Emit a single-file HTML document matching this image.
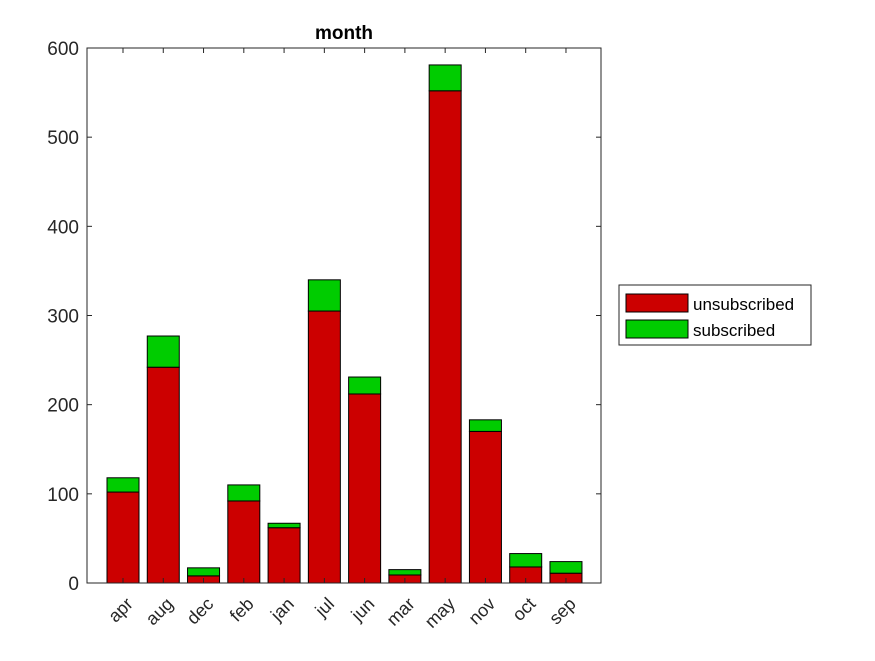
<!DOCTYPE html>
<html><head><meta charset="utf-8"><style>
body{margin:0;background:#fff;}
svg text{font-family:"Liberation Sans",Arial,sans-serif;fill:#262626;}
</style></head><body>
<svg id="chart" width="875" height="656" xmlns="http://www.w3.org/2000/svg">
<rect x="0" y="0" width="875" height="656" fill="#fff"/>
<text x="344" y="39" font-size="19" font-weight="bold" text-anchor="middle" style="fill:#000">month</text>
<g id="bars"></g>
<rect x="87" y="48" width="514" height="535" fill="none" stroke="#262626" stroke-width="1"/>
<g id="axes"></g>
<g>
<rect x="619" y="285" width="192" height="60" fill="#fff" stroke="#262626" stroke-width="1"/>
<rect x="626" y="294" width="62" height="18" fill="#cc0000" stroke="#000" stroke-width="1"/>
<text x="693" y="310" font-size="17" style="fill:#000">unsubscribed</text>
<rect x="626" y="320" width="62" height="18" fill="#00cc00" stroke="#000" stroke-width="1"/>
<text x="693" y="336" font-size="17" style="fill:#000">subscribed</text>
</g>
</svg>
<script>
const categories = ["apr","aug","dec","feb","jan","jul","jun","mar","may","nov","oct","sep"];
const unsubscribed = [102,242,8,92,62,305,212,9,552,170,18,11];
const subscribed = [16,35,9,18,5,35,19,6,29,13,15,13];
const yTicks = [0,100,200,300,400,500,600];

const NS = "http://www.w3.org/2000/svg";
const y = v => 583 - v * (535/600);
const x = i => 123 + i * 40.27;
const bw = 32;
function mk(tag, attrs, parent){ const e=document.createElementNS(NS,tag); for(const k in attrs) e.setAttribute(k,attrs[k]); parent.appendChild(e); return e; }
const bars = document.getElementById('bars');
const axes = document.getElementById('axes');
categories.forEach((c,i)=>{
  const u = unsubscribed[i], s = subscribed[i];
  const r = mk('rect',{x:x(i)-bw/2,y:y(u),width:bw,height:y(0)-y(u),fill:'#cc0000',stroke:'#000','stroke-width':1},bars);
  
  
  const g = mk('rect',{x:x(i)-bw/2,y:y(u+s),width:bw,height:y(u)-y(u+s),fill:'#00cc00',stroke:'#000','stroke-width':1},bars);
  
  
  mk('line',{x1:x(i),x2:x(i),y1:583,y2:578,stroke:'#262626'},axes);
  mk('line',{x1:x(i),x2:x(i),y1:48,y2:53,stroke:'#262626'},axes);
  const tx = x(i)+11, ty = 605;
  const t = mk('text',{x:tx,y:ty,'font-size':18,'text-anchor':'end',transform:`rotate(-45 ${tx} ${ty})`},axes);
  t.textContent = c;
  
  
});
yTicks.forEach(v=>{
  mk('line',{x1:87,x2:92,y1:y(v),y2:y(v),stroke:'#262626'},axes);
  mk('line',{x1:596,x2:601,y1:y(v),y2:y(v),stroke:'#262626'},axes);
  const t = mk('text',{x:79,y:y(v)+7,'font-size':19,'text-anchor':'end'},axes);
  t.textContent = v;
  
  
});
</script>
</body></html>
